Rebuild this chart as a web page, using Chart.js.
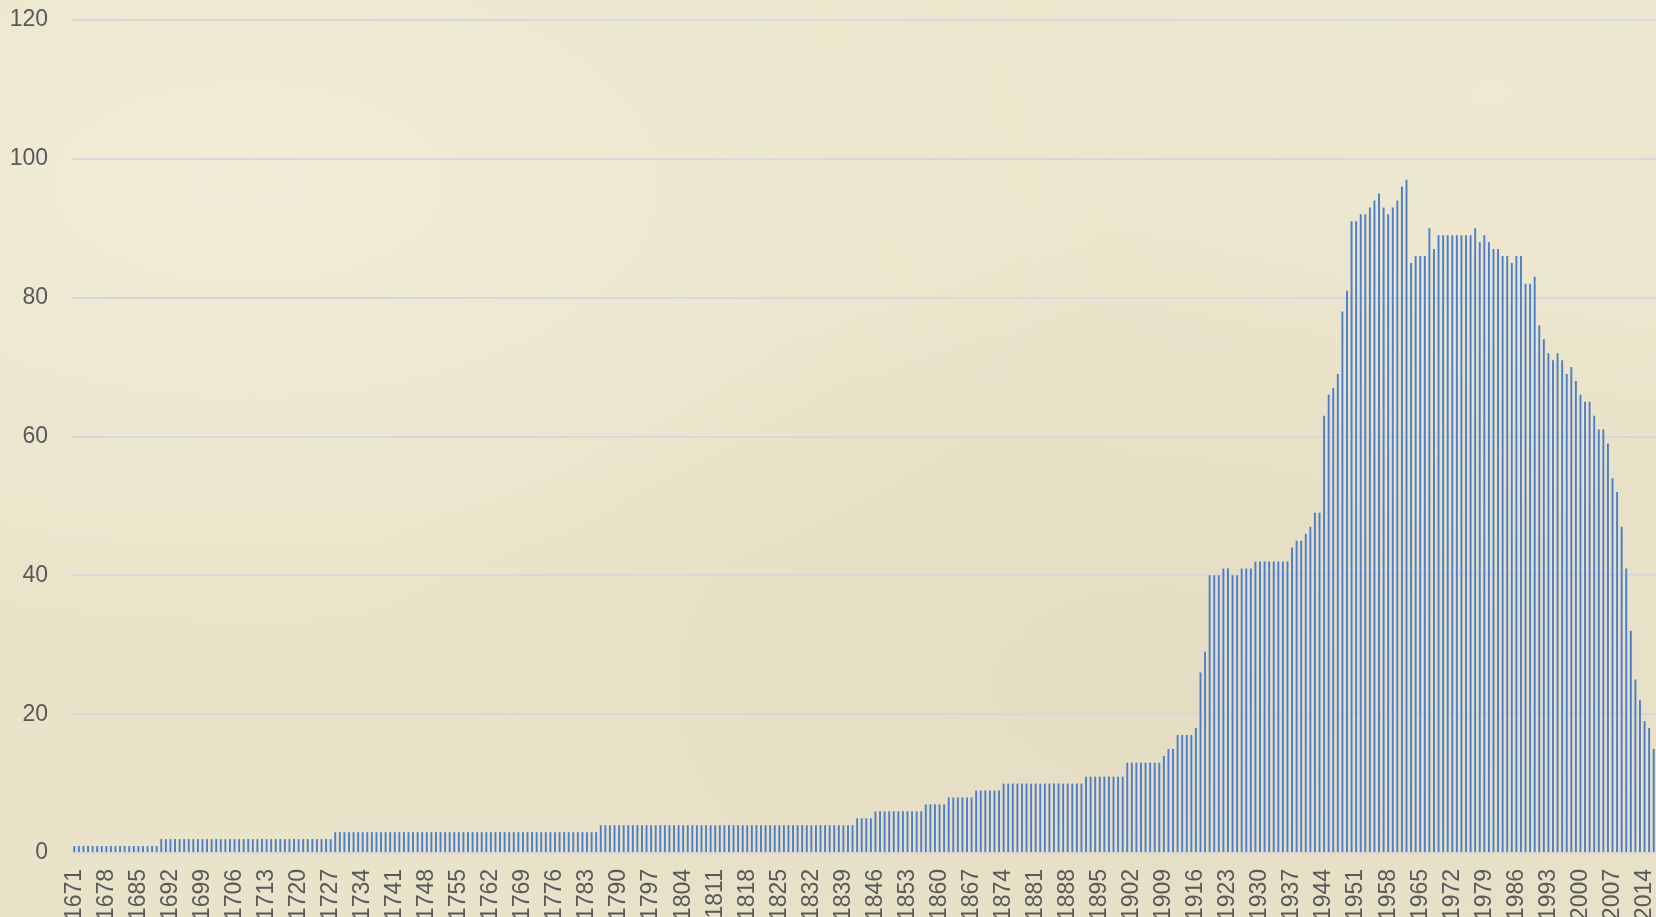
<!DOCTYPE html>
<html>
<head>
<meta charset="utf-8">
<script src="https://cdn.jsdelivr.net/npm/chart.js@4.4.0/dist/chart.umd.min.js"></script>
<style>
  html, body { margin: 0; padding: 0; }
  body {
    width: 1656px; height: 917px; overflow: hidden;
    background-color: #E9E3C9;
    background-image:
      radial-gradient(ellipse at 15% 20%, rgba(248,244,226,0.55), rgba(248,244,226,0) 45%),
      radial-gradient(ellipse at 70% 75%, rgba(222,214,188,0.45), rgba(222,214,188,0) 50%),
      radial-gradient(ellipse at 90% 10%, rgba(245,240,222,0.4), rgba(245,240,222,0) 40%);
  }
  #wrap { position: relative; width: 1656px; height: 917px; }
</style>
</head>
<body>
<div id="wrap"><canvas id="chart"></canvas></div>
<script>
// Años: uno por barra, desde 1671
const firstYear = 1671;

// Valores, una fila por década
const values = [
  1, 1, 1, 1, 1, 1, 1, 1, 1, 1,           // 1671-1680
  1, 1, 1, 1, 1, 1, 1, 1, 1, 2,           // 1681-1690
  2, 2, 2, 2, 2, 2, 2, 2, 2, 2,           // 1691-1700
  2, 2, 2, 2, 2, 2, 2, 2, 2, 2,           // 1701-1710
  2, 2, 2, 2, 2, 2, 2, 2, 2, 2,           // 1711-1720
  2, 2, 2, 2, 2, 2, 2, 3, 3, 3,           // 1721-1730
  3, 3, 3, 3, 3, 3, 3, 3, 3, 3,           // 1731-1740
  3, 3, 3, 3, 3, 3, 3, 3, 3, 3,           // 1741-1750
  3, 3, 3, 3, 3, 3, 3, 3, 3, 3,           // 1751-1760
  3, 3, 3, 3, 3, 3, 3, 3, 3, 3,           // 1761-1770
  3, 3, 3, 3, 3, 3, 3, 3, 3, 3,           // 1771-1780
  3, 3, 3, 3, 3, 4, 4, 4, 4, 4,           // 1781-1790
  4, 4, 4, 4, 4, 4, 4, 4, 4, 4,           // 1791-1800
  4, 4, 4, 4, 4, 4, 4, 4, 4, 4,           // 1801-1810
  4, 4, 4, 4, 4, 4, 4, 4, 4, 4,           // 1811-1820
  4, 4, 4, 4, 4, 4, 4, 4, 4, 4,           // 1821-1830
  4, 4, 4, 4, 4, 4, 4, 4, 4, 4,           // 1831-1840
  4, 5, 5, 5, 5, 6, 6, 6, 6, 6,           // 1841-1850
  6, 6, 6, 6, 6, 6, 7, 7, 7, 7,           // 1851-1860
  7, 8, 8, 8, 8, 8, 8, 9, 9, 9,           // 1861-1870
  9, 9, 9, 10, 10, 10, 10, 10, 10, 10,    // 1871-1880
  10, 10, 10, 10, 10, 10, 10, 10, 10, 10, // 1881-1890
  10, 11, 11, 11, 11, 11, 11, 11, 11, 11, // 1891-1900
  13, 13, 13, 13, 13, 13, 13, 13, 14, 15, // 1901-1910
  15, 17, 17, 17, 17, 18, 26, 29, 40, 40, // 1911-1920
  40, 41, 41, 40, 40, 41, 41, 41, 42, 42, // 1921-1930
  42, 42, 42, 42, 42, 42, 44, 45, 45, 46, // 1931-1940
  47, 49, 49, 63, 66, 67, 69, 78, 81, 91, // 1941-1950
  91, 92, 92, 93, 94, 95, 93, 92, 93, 94, // 1951-1960
  96, 97, 85, 86, 86, 86, 90, 87, 89, 89, // 1961-1970
  89, 89, 89, 89, 89, 89, 90, 88, 89, 88, // 1971-1980
  87, 87, 86, 86, 85, 86, 86, 82, 82, 83, // 1981-1990
  76, 74, 72, 71, 72, 71, 69, 70, 68, 66, // 1991-2000
  65, 65, 63, 61, 61, 59, 54, 52, 47, 41, // 2001-2010
  32, 25, 22, 19, 18, 15                  // 2011-2016
];

const years = values.map((v, i) => String(firstYear + i));
const yMin = 0;
const yMax = 120;
const yStep = 20;
const labelEvery = 7;   // se muestra un año de cada siete

const textColor = '#595959';
const gridColor = '#D8D8DC';
const barColor = '#4C7ECB';
const fontFamily = "'Liberation Sans', Arial, sans-serif";

const ctx = document.getElementById('chart').getContext('2d');
new Chart(ctx, {
  type: 'bar',
  data: {
    labels: years,
    datasets: [{
      data: values,
      backgroundColor: barColor,
      borderWidth: 0,
      barPercentage: 0.42,
      categoryPercentage: 1
    }]
  },
  options: {
    responsive: true,
    maintainAspectRatio: false,
    animation: false,
    layout: { padding: { top: 20, right: 0, bottom: 0, left: 0 } },
    plugins: {
      legend: { display: false },
      tooltip: { enabled: false }
    },
    scales: {
      x: {
        grid: { display: false, drawTicks: false },
        border: { display: false },
        ticks: {
          autoSkip: false,
          minRotation: 90,
          maxRotation: 90,
          padding: 16,
          color: textColor,
          font: { family: fontFamily, size: 23 },
          callback: function(value, index) {
            return index % labelEvery === 0 ? this.getLabelForValue(value) : '';
          }
        },
        afterFit: (scale) => {
          scale.height = 64;
          scale.paddingLeft = 0;
          scale.paddingRight = 0;
        }
      },
      y: {
        min: yMin,
        max: yMax,
        grid: { color: gridColor, lineWidth: 2, drawTicks: false },
        border: { display: false },
        ticks: {
          stepSize: yStep,
          padding: 24,
          color: textColor,
          font: { family: fontFamily, size: 23 }
        },
        afterFit: (scale) => {
          scale.width = 72;
          scale.paddingTop = 0;
          scale.paddingBottom = 0;
        }
      }
    }
  }
});
</script>
</body>
</html>
